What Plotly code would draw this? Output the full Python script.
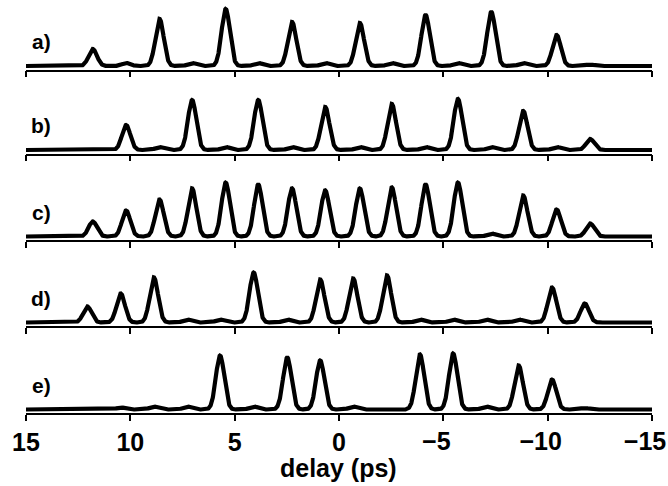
import numpy as np
import plotly.graph_objects as go

# Pulse slot delays (ps); traces d) and e) sit on a slightly shifted grid
slots_abc = [11.80, 10.20, 8.60, 7.04, 5.43, 3.87, 2.25, 0.66,
             -1.00, -2.53, -4.15, -5.70, -7.30, -8.83, -10.43, -12.04]
slots_de = [12.06, 10.46, 8.87, 7.27, 5.70, 4.09, 2.48, 0.90,
            -0.68, -2.30, -3.88, -5.47, -7.05, -8.61, -10.21, -11.78]

# Peak intensity in each slot (arb. units)
amp_a = [17, 3, 47, 3, 57, 3, 44, 3, 43, 3, 51, 3, 54, 3, 31, 1.5]
amp_b = [1, 25, 3, 50, 3, 50, 3, 43, 3, 46, 3, 51, 3, 39, 3, 11]
amp_c = [15, 26, 37, 48, 54, 52, 48, 46, 48, 49, 52, 54, 3, 41, 27, 13]
amp_d = [16, 29, 45, 3, 3, 50, 3, 43, 44, 47, 3, 3, 3, 3, 35, 19]
amp_e = [0, 2, 3, 3, 54, 3, 52, 49, 3, 0, 55, 56, 3, 44, 30, 1.5]

panel_labels = ["a)", "b)", "c)", "d)", "e)"]
panel_slots = [slots_abc, slots_abc, slots_abc, slots_de, slots_de]
panel_amps = [amp_a, amp_b, amp_c, amp_d, amp_e]

pulse_sigma = 0.20  # ps

pos_tick_vals = [15, 10, 5, 0]
pos_tick_text = ["15", "10", "5", "0"]
neg_tick_vals = [-5, -10, -15]
neg_tick_text = ["\u22125", "\u221210", "\u221215"]
tick_vals = pos_tick_vals + neg_tick_vals

x_title = "delay (ps)"

# Layout geometry (pixels)
W, H = 668, 486
ML, MR, MT, MB = 26, 16, 0, 73
plot_h = H - MT - MB
axis_px = [69.5, 153.5, 240, 326, 413]
panel_h = 68
y_lo, y_hi = -3.5, 64.5
tick_size = 25
# the delay axis runs right-to-left, so a positive shift moves labels left;
# about half the minus-sign advance keeps the digits on the tick
minus_shift = 7

delay = np.linspace(15, -15, 3001)

fig = go.Figure()
layout_axes = {}
annotations = []
font_family = "Liberation Sans, Arial, sans-serif"
tick_font = dict(family=font_family, size=tick_size, color="black", weight="bold")

for i, (label, slots, amps) in enumerate(zip(panel_labels, panel_slots, panel_amps)):
    n = "" if i == 0 else str(i + 1)
    trace = np.zeros_like(delay)
    for c, a in zip(slots, amps):
        trace += a * np.exp(-0.5 * ((delay - c) / pulse_sigma) ** 2)
    fig.add_trace(go.Scatter(
        x=delay, y=trace, mode="lines",
        line=dict(color="black", width=4.2),
        xaxis="x" + n, yaxis="y" + n, showlegend=False, hoverinfo="skip",
    ))
    bottom = (MT + plot_h - axis_px[i]) / plot_h
    top = bottom + panel_h / plot_h
    last = i == len(panel_labels) - 1
    layout_axes["xaxis" + n] = dict(
        domain=[0, 1], anchor="y" + n, range=[15, -15],
        showline=True, linecolor="black", linewidth=1.5,
        ticks="outside", ticklen=6, tickwidth=1.5, tickcolor="black",
        tickvals=tick_vals, ticktext=pos_tick_text + [""] * len(neg_tick_vals),
        showticklabels=last, automargin=False,
        showgrid=False, zeroline=False, tickfont=tick_font,
    )
    layout_axes["yaxis" + n] = dict(
        domain=[bottom, min(top, 1)], anchor="x" + n, range=[y_lo, y_hi],
        visible=False, fixedrange=True,
    )
    annotations.append(dict(
        text=label, xref="paper", yref="paper",
        x=(41 - ML) / (W - ML - MR), y=(MT + plot_h - (axis_px[i] - 28)) / plot_h,
        xanchor="center", yanchor="middle", showarrow=False,
        font=dict(family=font_family, size=21, color="black", weight="bold"),
    ))

# Negative tick labels on an overlaid axis, nudged so the minus hangs left
layout_axes["xaxis6"] = dict(
    overlaying="x5", anchor="y5", range=[15, -15],
    showline=False, showgrid=False, zeroline=False,
    ticks="outside", ticklen=6, tickwidth=1.5, tickcolor="rgba(0,0,0,0)",
    tickvals=neg_tick_vals, ticktext=neg_tick_text,
    ticklabelshift=minus_shift, ticklabeloverflow="allow",
    automargin=False, tickfont=tick_font,
)
fig.add_trace(go.Scatter(
    x=neg_tick_vals, y=[None] * len(neg_tick_vals), mode="lines",
    xaxis="x6", yaxis="y5", showlegend=False, hoverinfo="skip",
))

annotations.append(dict(
    text=x_title, xref="paper", yref="paper",
    x=(338 - ML) / (W - ML - MR), y=(MT + plot_h - 468) / plot_h,
    xanchor="center", yanchor="middle", showarrow=False,
    font=dict(family=font_family, size=25, color="black", weight="bold"),
))

fig.update_layout(
    width=W, height=H,
    margin=dict(l=ML, r=MR, t=MT, b=MB, autoexpand=False),
    paper_bgcolor="white", plot_bgcolor="white",
    annotations=annotations,
    **layout_axes,
)

fig.write_html("out.html")
